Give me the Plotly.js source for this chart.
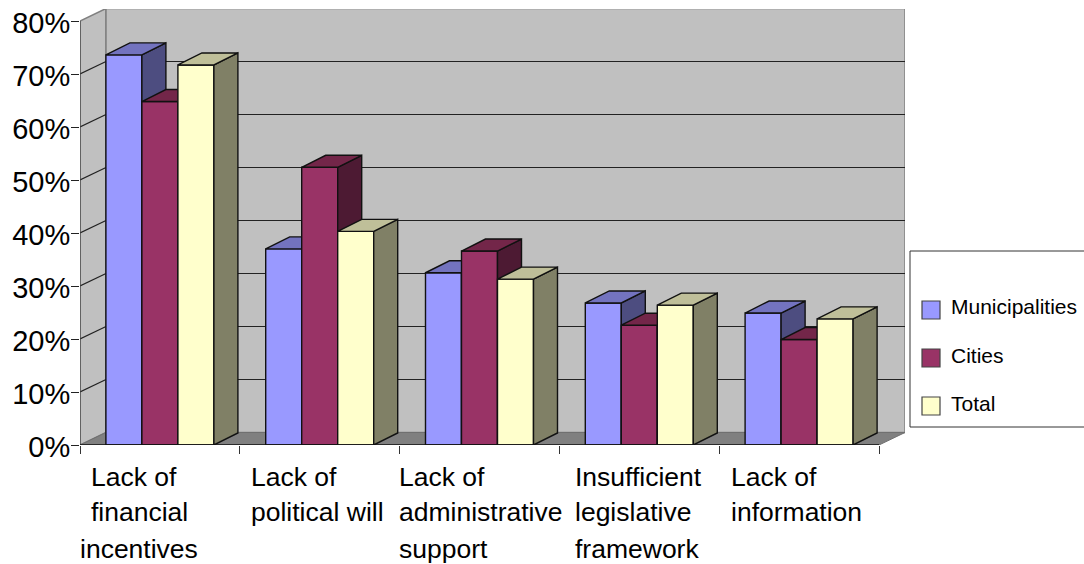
<!DOCTYPE html>
<html>
<head>
<meta charset="utf-8">
<script src="https://cdn.plot.ly/plotly-3.0.1.min.js"></script>
<style>html,body{margin:0;padding:0;background:#fff;overflow:hidden}</style>
</head>
<body>
<div id="chart" style="width:1084px;height:564px"></div>
<script>
// Survey results: barriers reported by municipalities and cities (percent).
const categoryLines = [
  ["Lack of", "financial", "incentives"],
  ["Lack of", "political will"],
  ["Lack of", "administrative", "support"],
  ["Insufficient", "legislative", "framework"],
  ["Lack of", "information"]
];
const seriesNames = ["Municipalities", "Cities", "Total"];
const municipalities = [73.6, 37.0, 32.5, 26.8, 24.9];
const cities = [64.8, 52.4, 36.6, 22.6, 19.9];
const total = [71.7, 40.3, 31.3, 26.4, 23.8];
const yTicks = [0, 10, 20, 30, 40, 50, 60, 70, 80];

// Face colours for each series: front, side, top.
const faceColors = [
  ["#9999FF", "#4D4D80", "#7373BF"],
  ["#993366", "#4D1A33", "#732649"],
  ["#FFFFCC", "#808066", "#BFBF99"]
];

// Figure geometry, in pixels of the 1084x564 page.
const W = 1084, H = 564, plotL = 80, plotR = 905, plotT = 9, plotB = 445;
const pxPerCat = 159.8, pxPerPct = 5.3;
const wallDx = 26 / pxPerCat, wallDy = 12.5 / pxPerPct;
const barDx = 24 / pxPerCat, barDy = 12 / pxPerPct;
const barW = 36 / pxPerCat;
const xRange = [0, (plotR - plotL) / pxPerCat];
const yRange = [0, (plotB - plotT) / pxPerPct];
const nCat = categoryLines.length;

const paperX = p => (p - plotL) / (plotR - plotL);
const paperY = p => (plotB - p) / (plotB - plotT);
const poly = pts => "M" + pts.map(q => q[0] + "," + q[1]).join("L") + "Z";

// The three series sit on stacked axis pairs so that each one paints
// completely over the one before it, which gives the correct occlusion.
const allSeries = [municipalities, cities, total];
const traces = [];
allSeries.forEach((vals, s) => {
  const axisX = s === 0 ? "x" : "x" + (s + 1);
  const axisY = s === 0 ? "y" : "y" + (s + 1);
  const centers = vals.map((_, i) => i + 0.5 + (s - 1) * barW);
  traces.push({
    type: "bar", name: seriesNames[s], x: centers, y: vals, width: barW,
    xaxis: axisX, yaxis: axisY, hoverinfo: "y",
    marker: {color: faceColors[s][0], line: {color: "#111", width: 1.4}}
  });
  vals.forEach((v, i) => {
    const x0 = centers[i] - barW / 2, x1 = centers[i] + barW / 2;
    const side = [[x1, 0], [x1, v], [x1 + barDx, v + barDy], [x1 + barDx, barDy], [x1, 0]];
    const top = [[x0, v], [x1, v], [x1 + barDx, v + barDy], [x0 + barDx, v + barDy], [x0, v]];
    [[side, 1], [top, 2]].forEach(([pts, c]) => traces.push({
      type: "scatter", mode: "lines", x: pts.map(q => q[0]), y: pts.map(q => q[1]),
      xaxis: axisX, yaxis: axisY, fill: "toself", fillcolor: faceColors[s][c],
      line: {color: "#111", width: 1.4}, hoverinfo: "skip", showlegend: false
    }));
  });
});

// Walls, floor and gridlines of the box behind the bars.
const dataShape = o => Object.assign({xref: "x", yref: "y", layer: "below"}, o);
const wallEdge = {color: "#808080", width: 1.5};
const shapes = [
  dataShape({type: "path", path: poly([[0, 0], [wallDx, wallDy], [wallDx, 80 + wallDy], [0, 80]]),
    fillcolor: "#C0C0C0", line: wallEdge}),
  dataShape({type: "rect", x0: wallDx, x1: nCat + wallDx, y0: wallDy, y1: 80 + wallDy,
    fillcolor: "#C0C0C0", line: wallEdge}),
  dataShape({type: "path", path: poly([[0, 0], [wallDx, wallDy], [nCat + wallDx, wallDy], [nCat, 0]]),
    fillcolor: "#808080", line: {color: "#707070", width: 1}})
];
yTicks.filter(t => t > 0 && t < 80).forEach(t => {
  shapes.push(dataShape({type: "line", x0: wallDx, x1: nCat + wallDx, y0: t + wallDy, y1: t + wallDy,
    line: {color: "#222", width: 1.2}}));
  shapes.push(dataShape({type: "line", x0: 0, x1: wallDx, y0: t, y1: t + wallDy,
    line: {color: "#222", width: 1.2}}));
});
// Front axis lines stop at the last tick rather than the edge of the box.
shapes.push(dataShape({type: "line", x0: 0, x1: 0, y0: 0, y1: 80, line: {color: "#444", width: 1.2}}));
shapes.push(dataShape({type: "line", x0: 0, x1: nCat, y0: 0, y1: 0, layer: "above", line: {color: "#111", width: 1.3}}));

// Key box on the right, running off the page edge.
const paperShape = o => Object.assign({xref: "paper", yref: "paper"}, o);
shapes.push(paperShape({type: "rect", x0: paperX(910), x1: paperX(W + 10), y0: paperY(427), y1: paperY(251),
  fillcolor: "#fff", line: {color: "#333", width: 1}}));

const annotations = [];
const swatchTops = [301, 349, 397];
const keyTextY = [306, 355, 403];
seriesNames.forEach((name, s) => {
  shapes.push(paperShape({type: "rect", x0: paperX(922), x1: paperX(940), y0: paperY(swatchTops[s] + 18), y1: paperY(swatchTops[s]),
    fillcolor: faceColors[s][0], line: {color: "#444", width: 1.2}}));
  annotations.push({xref: "paper", yref: "paper", x: paperX(949), y: paperY(keyTextY[s]),
    xanchor: "left", yanchor: "middle", showarrow: false, text: name,
    font: {family: "Liberation Sans, Arial, sans-serif", size: 21, color: "#000"}});
});

// Category labels are set line by line with a left edge per group.
const labelLeft = [89, 249, 397, 573, 729];
const labelLineY = [477, 512, 549];
categoryLines.forEach((lines, i) => {
  lines.forEach((line, k) => {
    const left = (i === 0 && k === 2) ? 78 : labelLeft[i];
    annotations.push({xref: "paper", yref: "paper", x: paperX(left), y: paperY(labelLineY[k]),
      xanchor: "left", yanchor: "middle", showarrow: false, text: line,
      font: {family: "Liberation Sans, Arial, sans-serif", size: 26.5, color: "#000"}});
  });
});

const hiddenX = {range: xRange, overlaying: "x", visible: false, fixedrange: true};
const hiddenY = {range: yRange, overlaying: "y", visible: false, fixedrange: true};

const layout = {
  width: W, height: H, showlegend: false, barmode: "overlay",
  paper_bgcolor: "#fff", plot_bgcolor: "rgba(0,0,0,0)",
  margin: {l: plotL, r: W - plotR, t: plotT, b: H - plotB, pad: 0},
  xaxis: {range: xRange, tickmode: "array", tickvals: categoryLines.map((_, i) => i).concat(nCat),
    showticklabels: false, ticks: "outside", ticklen: 8, tickcolor: "#333", tickwidth: 1,
    showgrid: false, zeroline: false, showline: false, fixedrange: true},
  yaxis: {range: yRange, tickmode: "array", tickvals: yTicks, ticktext: yTicks.map(t => t + "%"),
    ticks: "outside", ticklen: 8, tickcolor: "#222", tickwidth: 1,
    ticklabelstandoff: -5, ticklabelshift: 2,
    tickfont: {family: "Liberation Sans, Arial, sans-serif", size: 29, color: "#000"},
    showgrid: false, zeroline: false, showline: false, fixedrange: true},
  xaxis2: Object.assign({anchor: "y2"}, hiddenX),
  yaxis2: Object.assign({anchor: "x2"}, hiddenY),
  xaxis3: Object.assign({anchor: "y3"}, hiddenX),
  yaxis3: Object.assign({anchor: "x3"}, hiddenY),
  shapes: shapes,
  annotations: annotations
};

Plotly.newPlot("chart", traces, layout, {displayModeBar: false, staticPlot: true});
</script>
</body>
</html>
